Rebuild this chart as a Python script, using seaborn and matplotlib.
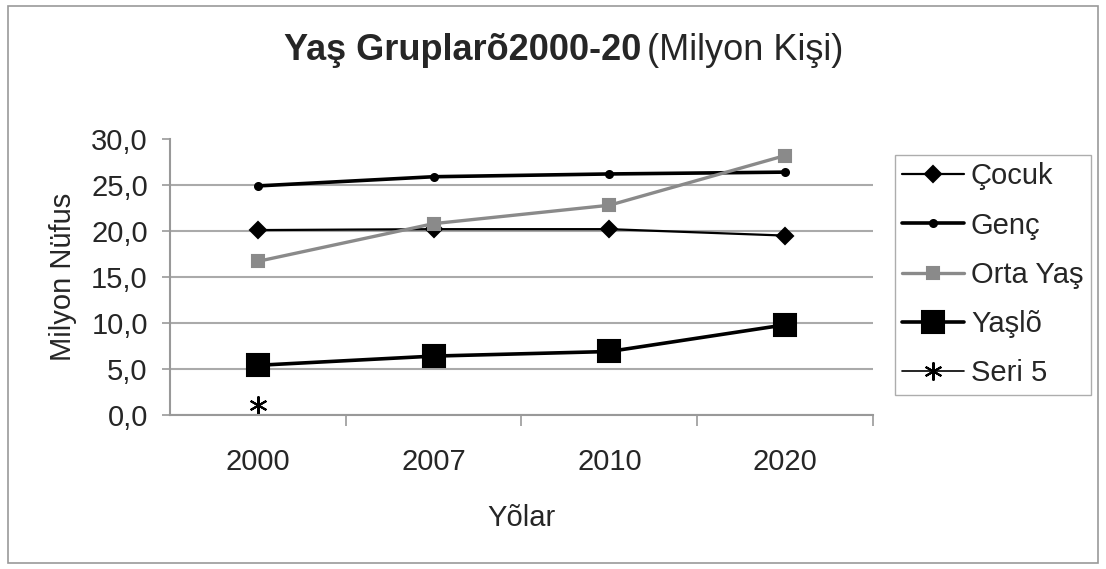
import matplotlib
matplotlib.use('Agg')
import matplotlib.pyplot as plt
import numpy as np
import pandas as pd
import seaborn as sns
from matplotlib.patches import Rectangle

# Data
years = ['2000', '2007', '2010', '2020']
cocuk = [20.1, 20.2, 20.2, 19.5]
genc = [24.9, 25.9, 26.2, 26.4]
orta_yas = [16.7, 20.8, 22.8, 28.2]
yasli = [5.4, 6.4, 6.9, 9.8]
seri5 = [1.1, np.nan, np.nan, np.nan]
series_names = ['Çocuk', 'Genç', 'Orta Yaş', 'Yaşlõ', 'Seri 5']
y_ticks = [0, 5, 10, 15, 20, 25, 30]

df = pd.DataFrame({
    'pos': range(len(years)),
    'Çocuk': cocuk,
    'Genç': genc,
    'Orta Yaş': orta_yas,
    'Yaşlõ': yasli,
    'Seri 5': seri5,
})

sns.set_theme(style='white')
plt.rcParams['font.family'] = ['Liberation Sans', 'DejaVu Sans']

styles = {
    'Çocuk': dict(color='black', lw=1.6, marker='D', ms=8),
    'Genç': dict(color='black', lw=2.6, marker='o', ms=5),
    'Orta Yaş': dict(color='#8a8a8a', lw=2.4, marker='s', ms=9),
    'Yaşlõ': dict(color='black', lw=2.6, marker='s', ms=16),
    'Seri 5': dict(color='black', lw=1.2, marker=(6, 2, 0), ms=13),
}

fig = plt.figure(figsize=(11.06, 5.69), dpi=100)
ax = fig.add_axes([0.1537, 0.2707, 0.7893 - 0.1537, 0.7557 - 0.2707])

for name in series_names:
    st = styles[name]
    sns.lineplot(data=df, x='pos', y=name, ax=ax, color=st['color'],
                 linewidth=st['lw'], marker=st['marker'], markersize=st['ms'],
                 markeredgecolor=st['color'], markeredgewidth=1.5,
                 label=name, legend=False)

ax.set_xlim(-0.5, len(years) - 0.5)
ax.set_ylim(0, 30)
ax.set_yticks(y_ticks)
ax.set_yticklabels([f'{v:.1f}'.replace('.', ',') for v in y_ticks], fontsize=21)
ax.set_xticks(range(len(years)))
ax.set_xticklabels(years, fontsize=21)
ax.set_xticks(np.arange(0.5, len(years), 1.0), minor=True)
ax.tick_params(axis='x', which='major', length=0, pad=24)
ax.tick_params(axis='x', which='minor', length=8, color='#999999', width=1.2, direction='out', bottom=True)
ax.tick_params(axis='y', length=6, color='#999999', width=1.2, direction='out', left=True, pad=10)

ax.yaxis.grid(True, color='#aaaaaa', linewidth=1.5)
ax.yaxis.get_gridlines()[-1].set_visible(False)
ax.set_axisbelow(True)
for s in ['top', 'right']:
    ax.spines[s].set_visible(False)
for s in ['left', 'bottom']:
    ax.spines[s].set_color('#999999')
    ax.spines[s].set_linewidth(1.5)

ax.set_xlabel('Yõlar', fontsize=21, labelpad=20)
ax.set_ylabel('Milyon Nüfus', fontsize=21, labelpad=10)

# Title: bold part and regular part
fig.text(641 / 1106, 1 - 50 / 569, 'Yaş Gruplarõ2000-20', fontsize=26,
         fontweight='bold', ha='right', va='center')
fig.text(647 / 1106, 1 - 50 / 569, '(Milyon Kişi)', fontsize=26,
         ha='left', va='center')

handles, labels = ax.get_legend_handles_labels()
fig.legend(handles, labels, loc='upper left', bbox_to_anchor=(895 / 1106, 1 - 155 / 569),
           fontsize=21, frameon=True, fancybox=False, edgecolor='#999999',
           handlelength=2.1, labelspacing=0.73, borderpad=0.25, handletextpad=0.25,
           borderaxespad=0)

# Outer chart frame
fig.patches.append(Rectangle((8 / 1106, 6 / 569), 1090 / 1106, 557 / 569,
                             transform=fig.transFigure, fill=False,
                             edgecolor='#999999', linewidth=1.2))

fig.savefig('out.png', dpi=100)
